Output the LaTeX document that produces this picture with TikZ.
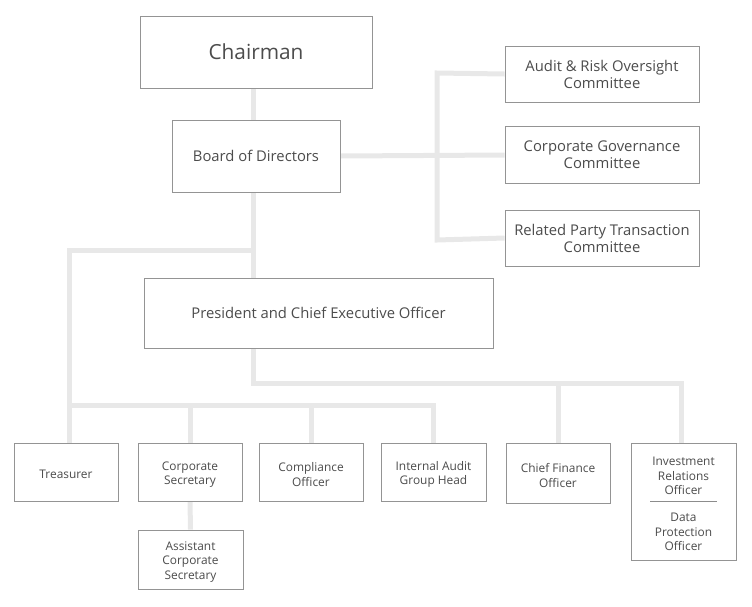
\documentclass[tikz,border=0pt]{standalone}
\usepackage{fontspec}
\setmainfont{Open Sans}
\usetikzlibrary{backgrounds}
\begin{document}
\begin{tikzpicture}[x=1pt,y=-1pt,
  box/.style={draw=black!42,line width=0.9pt,fill=white,text=black!70,align=center,inner sep=0pt},
  conn/.style={draw=black!9,line width=5pt},
  small/.style={font=\fontsize{11.9}{14.5}\selectfont},
  mid/.style={font=\fontsize{14.8}{17}\selectfont},
  sbox/.style={box,label={[small,text=black!70,align=center,yshift=-2.5pt]center:#1}}]
\useasboundingbox (0,0) rectangle (752,606);
\coordinate (j0) at (253,192);
\coordinate (j1) at (253,250);
\coordinate (j2) at (69,250);
\coordinate (j3) at (69,405);
\coordinate (j4) at (433,405);
\coordinate (k1) at (253,383);
\coordinate (k2) at (681,383);
\coordinate (c1) at (437,73);
\coordinate (c2) at (437,240);
% nodes
\node[box,minimum width=232,minimum height=72,font=\fontsize{20.8}{24}\selectfont] (ch) at (256,52) {Chairman};
\node[box,mid,minimum width=168,minimum height=72] (bod) at (256,156) {Board of Directors};
\node[box,mid,minimum width=349,minimum height=70] (ceo) at (318.5,313) {President and Chief Executive Officer};
\node[box,mid,minimum width=194,minimum height=56] (aud) at (602,74) {Audit \& Risk Oversight\\Committee};
\node[box,mid,minimum width=194,minimum height=57] (cg) at (602,155) {Corporate Governance\\Committee};
\node[box,mid,minimum width=194,minimum height=56] (rp) at (602,238) {Related Party Transaction\\Committee};
\node[sbox={Treasurer},minimum width=104,minimum height=58] (tr) at (66,472) {};
\node[sbox={Corporate\\Secretary},minimum width=104,minimum height=58] (cs) at (190,472) {};
\node[sbox={Compliance\\Officer},minimum width=104,minimum height=58] (co) at (311,472) {};
\node[sbox={Internal Audit\\Group Head},minimum width=105,minimum height=58] (ia) at (433.5,472) {};
\node[sbox={Chief Finance\\Officer},minimum width=104,minimum height=60] (cf) at (558,473) {};
\node[box,minimum width=105,minimum height=117] (ir) at (683.5,501.5) {};
\node[small,text=black!70,align=center] (irt) at (683.5,476) {Investment\\Relations\\Officer};
\node[small,text=black!70,align=center] (dpt) at (683.5,532) {Data\\Protection\\Officer};
\draw[black!45,line width=0.8pt] (650,501) -- (717,501);
\node[sbox={Assistant\\Corporate\\Secretary},minimum width=105,minimum height=59] (acs) at (190.5,559.5) {};
% connectors
\begin{scope}[on background layer]
\draw[conn] (ch.south -| j0) -- (bod.north -| j0);
\draw[conn] (j0) -- (ceo.north -| j0);
\draw[conn] (j1) -- (j2) -- (tr.north -| j2);
\draw[conn] (j3) -- (j4) -- (ia.north -| j4);
\draw[conn] (cs.north |- j3) -- (cs.north);
\draw[conn] (co.north |- j3) -- (co.north);
\draw[conn] (cs.south) -- (acs.north);
\draw[conn] (ceo.south -| k1) -- (k1) -- (k2) -- (ir.north -| k2);
\draw[conn] (cf.north |- k1) -- (cf.north);
\draw[conn] (bod.east) -- (cg.west);
\draw[conn] (aud.west) -- (c1) -- (c2) -- (rp.west);
\end{scope}
\end{tikzpicture}
\end{document}
